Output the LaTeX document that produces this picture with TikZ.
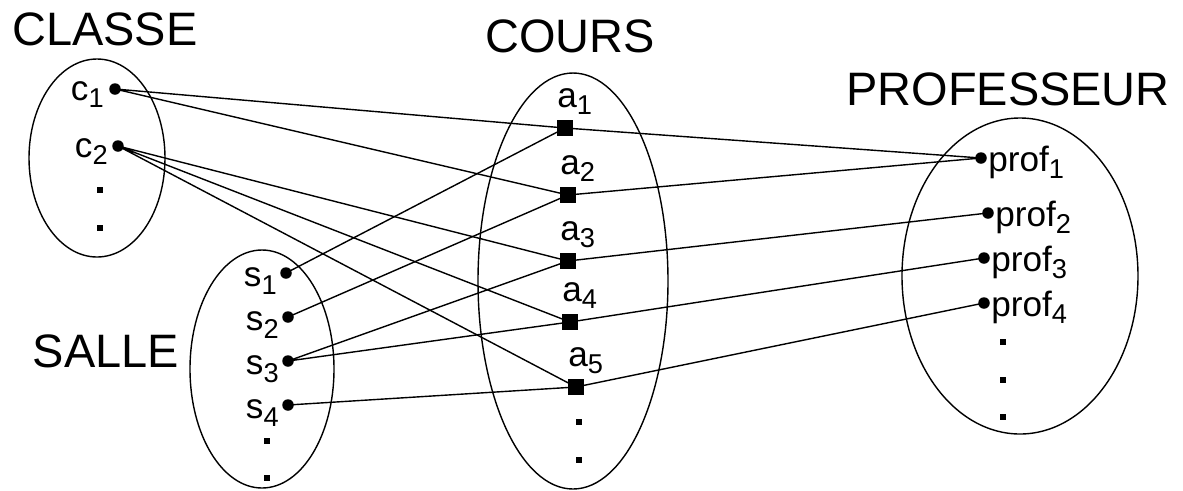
\documentclass[tikz,border=0pt]{standalone}
\usepackage{fontspec}
\setmainfont{Liberation Sans}
\usetikzlibrary{calc}

\newcommand{\withidx}[2]{#1\raisebox{-4.5pt}{\fontsize{15.5}{16}\selectfont #2}}

\begin{document}
\begin{tikzpicture}[
    title/.style={font=\fontsize{26.7}{30}\selectfont, inner sep=0pt},
    lbl/.style={font=\fontsize{20}{22}\selectfont, inner sep=0pt},
    link/.style={line width=0.8pt}]
    \useasboundingbox (0,0) rectangle (23.66,-9.80);

    % Define element points
    \coordinate (c1) at (2.30,-1.78);
    \coordinate (c2) at (2.36,-2.92);
    \coordinate (s1) at (5.72,-5.46);
    \coordinate (s2) at (5.76,-6.34);
    \coordinate (s3) at (5.76,-7.22);
    \coordinate (s4) at (5.76,-8.10);
    \coordinate (a1) at (11.30,-2.56);
    \coordinate (a2) at (11.36,-3.90);
    \coordinate (a3) at (11.36,-5.22);
    \coordinate (a4) at (11.40,-6.44);
    \coordinate (a5) at (11.52,-7.74);
    \coordinate (p1) at (19.62,-3.16);
    \coordinate (p2) at (19.76,-4.26);
    \coordinate (p3) at (19.68,-5.16);
    \coordinate (p4) at (19.68,-6.06);

    % Draw the sets
    \draw[link] (1.94,-3.16) ellipse [x radius=1.36cm, y radius=1.98cm];
    \draw[link] (5.24,-7.38) ellipse [x radius=1.44cm, y radius=2.38cm];
    \draw[link] (11.46,-5.62) ellipse [x radius=1.90cm, y radius=4.16cm];
    \draw[link] (20.40,-5.52) ellipse [x radius=2.36cm, y radius=3.16cm];

    % Set names
    \node[title, anchor=base] (classe) at (2.10,-0.90) {CLASSE};
    \node[title, anchor=base] (cours) at (11.40,-1.04) {COURS};
    \node[title, anchor=base] (professeur) at (20.16,-2.10) {PROFESSEUR};
    \node[title, anchor=base] (salle) at (2.12,-7.34) {SALLE};

    % Draw the links
    \draw[link] (c1) -- (a1) (c1) -- (a2);
    \draw[link] (c2) -- (a3) (c2) -- (a4) (c2) -- (a5);
    \draw[link] (s1) -- (a1) (s2) -- (a2) (s3) -- (a3) (s3) -- (a4) (s4) -- (a5);
    \draw[link] (a1) -- (p1) (a2) -- (p1) (a3) -- (p2) (a4) -- (p3) (a5) -- (p4);

    % Mark the elements
    \foreach \p in {c1,c2,s1,s2,s3,s4,p1,p2,p3,p4} {
        \fill (\p) circle (0.115);
    }
    \foreach \p in {a1,a2,a3,a4,a5} {
        \fill ($(\p)+(-0.16,-0.16)$) rectangle ++(0.32,0.32);
    }

    % Continuation dots
    \foreach \x/\y in {2.00/-3.80, 2.00/-4.56, 5.34/-8.82, 5.34/-9.56,
                       11.58/-8.44, 11.58/-9.20,
                       20.06/-6.84, 20.06/-7.60, 20.06/-8.34} {
        \fill ($(\x,\y)+(-0.06,-0.06)$) rectangle ++(0.12,0.12);
    }

    % Element names
    \node[lbl, anchor=base east] (c1l) at ($(c1)+(-0.22,-0.22)$) {\withidx{c}{1}};
    \node[lbl, anchor=base east] (c2l) at ($(c2)+(-0.20,-0.22)$) {\withidx{c}{2}};
    \foreach \i in {1,2,3,4} {
        \node[lbl, anchor=base east] (s\i l) at ($(s\i)+(-0.18,-0.27)$) {\withidx{s}{\i}};
        \node[lbl, anchor=base west] (p\i l) at ($(p\i)+(0.14,-0.26)$) {\withidx{prof}{\i}};
    }
    \foreach \i in {1,...,5} {
        \node[lbl, anchor=base west] (a\i l) at ($(a\i)+(-0.16,0.42)$) {\withidx{a}{\i}};
    }
\end{tikzpicture}
\end{document}
